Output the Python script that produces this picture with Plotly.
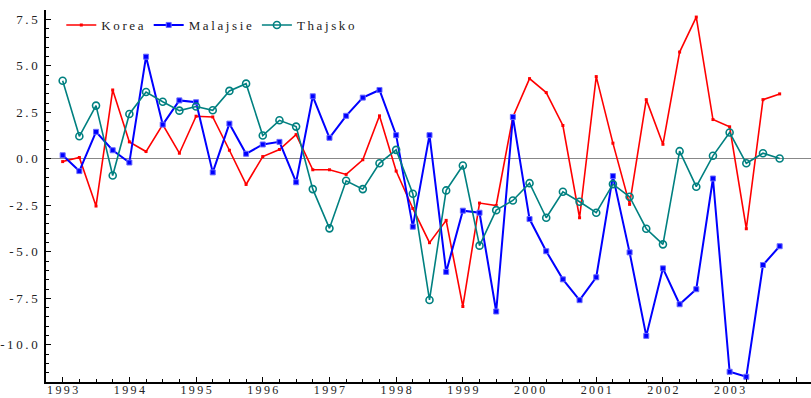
import plotly.graph_objects as go

# Quarterly observations, 1993 Q1 .. 2003 Q4
quarters = [1993 + 0.25 * i for i in range(44)]

korea = [
    -0.15, 0.07, -2.54, 3.70, 0.91, 0.39, 1.84, 0.30,
    2.29, 2.25, 0.46, -1.38, 0.12, 0.50, 1.30, -0.59,
    -0.59, -0.84, -0.05, 2.31, -0.66, -2.67, -4.51, -3.31,
    -7.94, -2.38, -2.51, 2.25, 4.31, 3.56, 1.79, -3.17,
    4.42, 0.84, -2.45, 3.18, 0.78, 5.74, 7.62, 2.11,
    1.72, -3.76, 3.18, 3.49,
]

malajsie = [
    0.19, -0.66, 1.45, 0.46, -0.20, 5.49, 1.84, 3.14,
    3.04, -0.73, 1.89, 0.27, 0.77, 0.91, -1.26, 3.36,
    1.13, 2.31, 3.29, 3.70, 1.27, -3.65, 1.27, -6.08,
    -2.79, -2.90, -8.21, 2.25, -3.24, -4.97, -6.48, -7.60,
    -6.37, -0.93, -5.03, -9.52, -5.89, -7.82, -7.01, -1.06,
    -11.45, -11.72, -5.71, -4.70,
]

thajsko = [
    4.20, 1.21, 2.86, -0.90, 2.41, 3.59, 3.07, 2.59,
    2.81, 2.61, 3.65, 4.04, 1.25, 2.07, 1.73, -1.63,
    -3.74, -1.18, -1.63, -0.24, 0.48, -1.88, -7.59, -1.70,
    -0.36, -4.67, -2.76, -2.24, -1.31, -3.17, -1.77, -2.31,
    -2.90, -1.36, -2.04, -3.76, -4.60, 0.41, -1.50, 0.16,
    1.41, -0.24, 0.30, 0.02,
]

series_names = ["Korea", "Malajsie", "Thajsko"]
year_ticks = list(range(1993, 2005))
value_ticks = [-10.0, -7.5, -5.0, -2.5, 0.0, 2.5, 5.0, 7.5]

SP = "\u2009"


def spaced(s):
    """Widen the tracking of a label by putting thin spaces between glyphs."""
    return SP.join(s)


FONT = "Liberation Serif"
TEXT = "#222222"

fig = go.Figure()

fig.add_trace(go.Scatter(
    x=quarters, y=korea, name=spaced(series_names[0]),
    mode="lines+markers",
    line=dict(color="#ff0000", width=1.6),
    marker=dict(symbol="square", size=3, color="#ff0000"),
))
fig.add_trace(go.Scatter(
    x=quarters, y=malajsie, name=spaced(series_names[1]),
    mode="lines+markers",
    line=dict(color="#0000ff", width=2),
    marker=dict(symbol="square", size=5, color="#0000ff",
                line=dict(color="#6a6aff", width=1)),
))
fig.add_trace(go.Scatter(
    x=quarters, y=thajsko, name=spaced(series_names[2]),
    mode="lines+markers",
    line=dict(color="#008080", width=1.6),
    marker=dict(symbol="circle-open", size=7, color="#008080",
                line=dict(width=1.6)),
))

fig.update_layout(
    width=811, height=398,
    margin=dict(l=46, r=0, t=10, b=16),
    paper_bgcolor="white", plot_bgcolor="white",
    font=dict(family=FONT, size=13, color=TEXT),
    showlegend=True,
    legend=dict(
        orientation="h", x=0.02, y=1.0, xanchor="left", yanchor="top",
        bgcolor="rgba(0,0,0,0)", font=dict(family=FONT, size=13, color=TEXT),
        itemwidth=30, tracegroupgap=0,
    ),
    xaxis=dict(
        range=[1992.75, 2004.22],
        tickvals=year_ticks,
        ticktext=[spaced(str(y)) for y in year_ticks],
        ticks="inside", ticklen=5, tickcolor="black", tickwidth=1,
        minor=dict(dtick=0.25, tick0=1993, ticks="inside", ticklen=3,
                   tickcolor="black", showgrid=False),
        showline=True, linecolor="black", linewidth=1.5,
        showgrid=False, zeroline=False, mirror=False,
        tickfont=dict(family=FONT, size=12, color=TEXT),
        ticklabelstandoff=-4, automargin=False,
    ),
    yaxis=dict(
        range=[-12, 8],
        tickvals=value_ticks,
        ticktext=[spaced(f"{v:.1f}") for v in value_ticks],
        ticks="inside", ticklen=5, tickcolor="black", tickwidth=1,
        minor=dict(dtick=0.5, tick0=0, ticks="inside", ticklen=3,
                   tickcolor="black", showgrid=False),
        showline=True, linecolor="black", linewidth=1.5,
        showgrid=False,
        zeroline=True, zerolinecolor="#888888", zerolinewidth=1,
        tickfont=dict(family=FONT, size=13, color=TEXT),
        ticklabelstandoff=4, automargin=False,
    ),
)

fig.write_html("out.html")
